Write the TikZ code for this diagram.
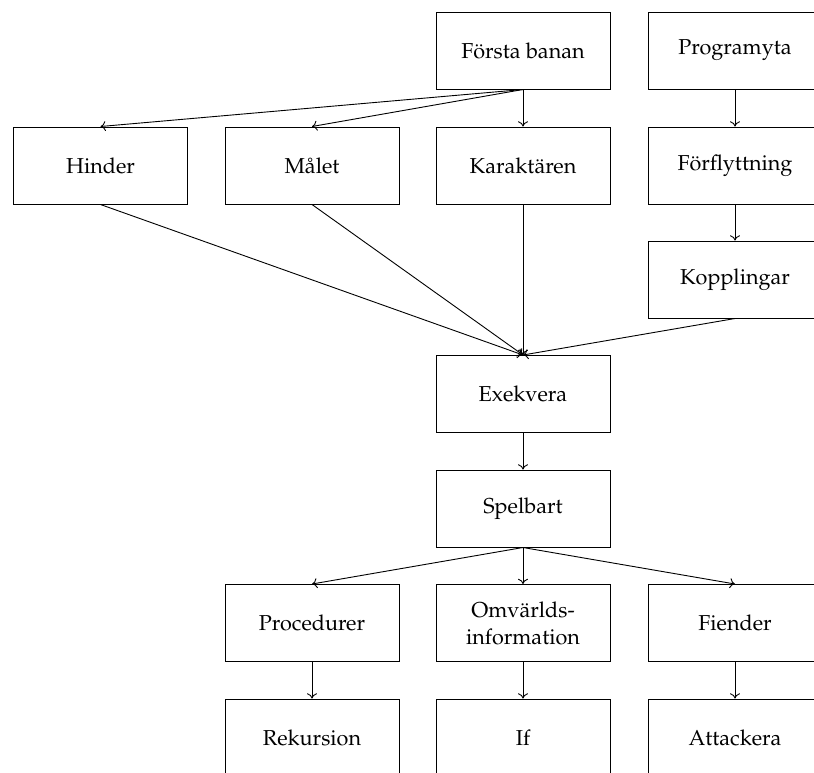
\documentclass[tikz,border=0pt]{standalone}
\usepackage[T1]{fontenc}
\renewcommand{\rmdefault}{ppl}
\usetikzlibrary{arrows.meta}
\begin{document}
\begin{tikzpicture}[x=0.5pt,y=-0.5pt,
  box/.style={draw,line width=0.5pt,rectangle,minimum width=87pt,minimum height=38.5pt,inner sep=0pt,align=center,font=\fontsize{10.8}{13.5}\selectfont},
  arr/.style={-{To[length=2.6pt,width=5pt]},line width=0.45pt}]
\useasboundingbox (0,0) rectangle (814,772);
\node[box] (fb) at (523,50.5) {F\"orsta banan};
\node[box] (py) at (735,50.5) {Programyta};
\node[box] (hi) at (100.5,165.5) {Hinder};
\node[box] (ma) at (312,165.5) {M\aa let};
\node[box] (ka) at (523,165.5) {Karakt\"aren};
\node[box] (ff) at (735,165.5) {F\"orflyttning};
\node[box] (ko) at (735,279.5) {Kopplingar};
\node[box] (ex) at (523,394) {Exekvera};
\node[box] (sp) at (523,508.5) {Spelbart};
\node[box] (pr) at (312,623) {Procedurer};
\node[box] (om) at (523,623) {Omv\"arlds-\\information};
\node[box] (fi) at (735,623) {Fiender};
\node[box] (re) at (312,737.5) {Rekursion};
\node[box] (if) at (523,737.5) {If};
\node[box] (at) at (735,737.5) {Attackera};
\draw[arr] (fb.south) -- (hi.north);
\draw[arr] (fb.south) -- (ma.north);
\draw[arr] (fb.south) -- (ka.north);
\draw[arr] (py.south) -- (ff.north);
\draw[arr] (ff.south) -- (ko.north);
\draw[arr] (hi.south) -- (ex.north);
\draw[arr] (ma.south) -- (ex.north);
\draw[arr] (ka.south) -- (ex.north);
\draw[arr] (ko.south) -- (ex.north);
\draw[arr] (ex.south) -- (sp.north);
\draw[arr] (sp.south) -- (pr.north);
\draw[arr] (sp.south) -- (om.north);
\draw[arr] (sp.south) -- (fi.north);
\draw[arr] (pr.south) -- (re.north);
\draw[arr] (om.south) -- (if.north);
\draw[arr] (fi.south) -- (at.north);
\end{tikzpicture}
\end{document}
